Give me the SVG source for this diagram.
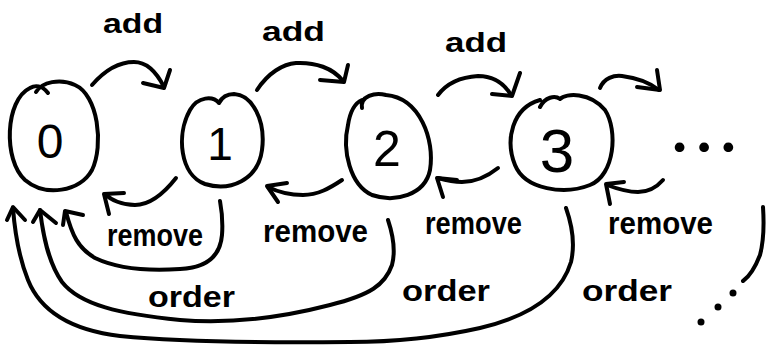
<svg xmlns="http://www.w3.org/2000/svg" width="767" height="345" viewBox="0 0 767 345">
  <style>
    .ink { fill: none; stroke: #000; stroke-width: 4; stroke-linecap: round; stroke-linejoin: round; }
    .lbl { font-family: "Liberation Sans", "DejaVu Sans", sans-serif; font-weight: bold; fill: #000; }
    .num { font-family: "Liberation Sans", "DejaVu Sans", sans-serif; fill: #000; }
    .ellipsis { font-family: Lato, "Noto Sans", sans-serif; font-weight: bold; fill: #000; }
    .dot { fill: #000; }
  </style>
  <rect width="767" height="345" fill="#fff"/>

  <!-- state nodes -->
  <g id="node-0">
    <path class="ink" d="M 48 93 C 42 85, 35 85, 30 88 C 5 100, 3 160, 25 180 C 45 197, 80 192, 92 170 C 104 145, 98 95, 75 85 C 60 78, 42 82, 36 92"/>
    <text class="num" x="50" y="158" font-size="48" text-anchor="middle">0</text>
  </g>
  <g id="node-1">
    <path class="ink" d="M 219 103 C 213 96, 198 96, 190 110 C 176 135, 180 175, 205 184 C 230 192, 258 180, 262 150 C 266 120, 252 95, 234 94 C 227 94, 222 97, 219 103"/>
    <text class="num" x="220" y="160" font-size="46" text-anchor="middle">1</text>
  </g>
  <g id="node-2">
    <path class="ink" d="M 362 108 C 360 96, 375 92, 386 95 C 420 98, 435 140, 430 170 C 425 195, 395 203, 372 195 C 350 185, 342 150, 348 125 C 350 112, 355 103, 362 100"/>
    <text class="num" x="387" y="166" font-size="50" text-anchor="middle">2</text>
  </g>
  <g id="node-3">
    <path class="ink" d="M 540 107 C 545 97, 555 95, 560 99 C 566 93, 590 92, 605 110 C 618 130, 615 175, 590 185 C 565 195, 525 190, 515 165 C 505 140, 512 108, 540 100"/>
    <text class="num" x="557" y="172" font-size="62" text-anchor="middle">3</text>
  </g>
  <g id="node-more">
    <text class="ellipsis" x="672" y="152" font-size="64" textLength="64" lengthAdjust="spacing">...</text>
  </g>

  <g id="connectors">
    <!-- add: forward arrows -->
    <path class="ink" d="M 92 85 C 105 70, 120 62, 134 62 C 148 62, 158 75, 164 87"/>
    <path class="ink" d="M 143 83 L 164 88 L 170 70"/>
    <path class="ink" d="M 257 90 C 268 73, 283 64, 296 63 C 315 62, 333 68, 343 81"/>
    <path class="ink" d="M 320 80 L 344 82 L 348 65"/>
    <path class="ink" d="M 438 95 C 447 83, 462 77, 478 76 C 495 76, 505 85, 511 95"/>
    <path class="ink" d="M 492 94 L 512 96 L 520 73"/>
    <path class="ink" d="M 600 88 C 604 78, 614 75, 622 76 C 638 78, 650 83, 659 90"/>
    <path class="ink" d="M 637 87 L 660 90 L 657 70"/>

    <!-- remove: backward arrows -->
    <path class="ink" d="M 176 178 C 165 192, 150 205, 135 205 C 122 205, 111 200, 105 194"/>
    <path class="ink" d="M 124 193 L 104 194 L 109 214"/>
    <path class="ink" d="M 342 180 C 330 188, 318 195, 303 195 C 290 195, 278 192, 268 187"/>
    <path class="ink" d="M 287 183 L 267 186 L 278 202"/>
    <path class="ink" d="M 498 168 C 488 176, 475 182, 462 182 C 452 182, 445 180, 438 178"/>
    <path class="ink" d="M 457 180 L 437 178 L 443 197"/>
    <path class="ink" d="M 663 180 C 656 188, 648 192, 638 192 C 626 192, 615 188, 607 185"/>
    <path class="ink" d="M 624 182 L 606 184 L 610 204"/>

    <!-- order: long arcs back to 0 -->
    <path class="ink" d="M 220 201 C 222 212, 223 222, 222 235 C 220 258, 205 268, 180 269 C 150 271, 120 270, 95 258 C 78 248, 72 235, 66 212"/>
    <path class="ink" d="M 83 215 L 65 211 L 63 225"/>
    <path class="ink" d="M 388 220 C 393 235, 396 250, 392 265 C 385 285, 370 295, 330 305 C 280 318, 230 324, 180 320 C 120 314, 80 305, 62 282 C 48 262, 43 235, 40 210"/>
    <path class="ink" d="M 56 223 L 40 210 L 33 222"/>
    <path class="ink" d="M 566 208 C 572 225, 575 245, 571 262 C 562 292, 535 315, 480 328 C 440 337, 400 342, 350 342 C 260 343, 180 342, 120 336 C 70 330, 40 310, 28 280 C 20 260, 15 235, 13 208"/>
    <path class="ink" d="M 25 220 L 13 207 L 7 220"/>
    <path class="ink" d="M 763 207 C 764 222, 764 240, 760 255 C 755 268, 750 276, 743 281"/>
    <circle class="dot" cx="733" cy="293" r="3.5"/>
    <circle class="dot" cx="718" cy="307" r="3.5"/>
    <circle class="dot" cx="701" cy="322" r="3.5"/>
  </g>

  <!-- edge labels -->
  <g id="labels">
    <text class="lbl" x="103" y="33" font-size="28" textLength="60" lengthAdjust="spacingAndGlyphs">add</text>
    <text class="lbl" x="262" y="41" font-size="28" textLength="63" lengthAdjust="spacingAndGlyphs">add</text>
    <text class="lbl" x="445" y="52" font-size="28" textLength="62" lengthAdjust="spacingAndGlyphs">add</text>
    <text class="lbl" x="107" y="246" font-size="32" textLength="96" lengthAdjust="spacingAndGlyphs">remove</text>
    <text class="lbl" x="263" y="242" font-size="32" textLength="105" lengthAdjust="spacingAndGlyphs">remove</text>
    <text class="lbl" x="425" y="234" font-size="32" textLength="97" lengthAdjust="spacingAndGlyphs">remove</text>
    <text class="lbl" x="608" y="234" font-size="32" textLength="105" lengthAdjust="spacingAndGlyphs">remove</text>
    <text class="lbl" x="148" y="307" font-size="29" textLength="87" lengthAdjust="spacingAndGlyphs">order</text>
    <text class="lbl" x="402" y="301" font-size="29" textLength="88" lengthAdjust="spacingAndGlyphs">order</text>
    <text class="lbl" x="582" y="301" font-size="29" textLength="90" lengthAdjust="spacingAndGlyphs">order</text>
  </g>
</svg>
